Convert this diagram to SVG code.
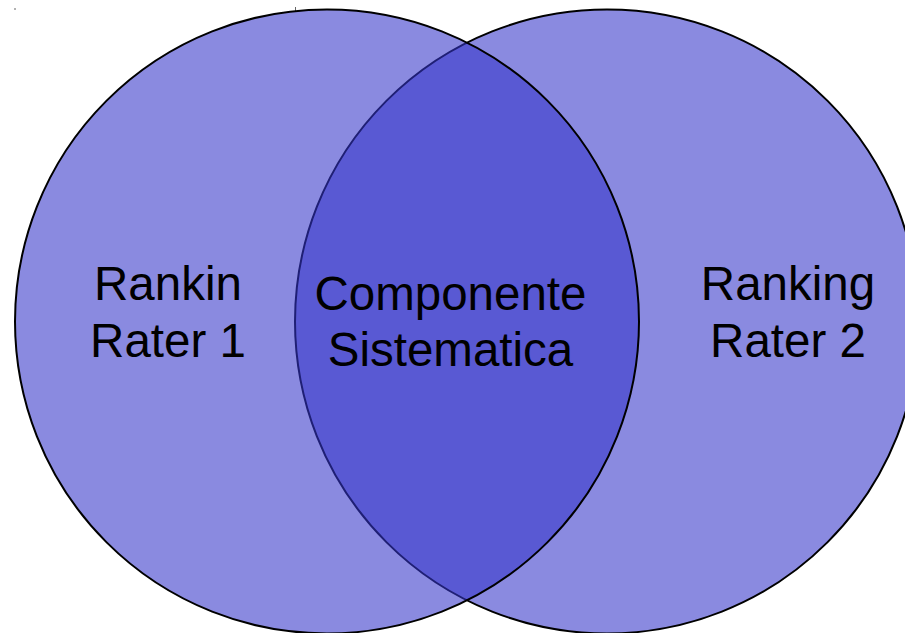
<svg xmlns="http://www.w3.org/2000/svg" width="905" height="633" viewBox="0 0 905 633">
  <style>
    .set { fill: #3636c9; fill-opacity: 0.58; stroke: #000; stroke-width: 2; }
    .label { font-family: "Liberation Sans", Arial, sans-serif; font-size: 47.5px; fill: #000; text-anchor: middle; }
  </style>
  <rect width="905" height="633" fill="#fff"/>
  <!-- small corner marks -->
  <g id="marks" stroke="#666" stroke-width="1">
    <line x1="15" y1="8" x2="15" y2="10"/>
    <line x1="295.5" y1="7" x2="295.5" y2="11"/>
  </g>
  <!-- right set is painted first so the left set's translucent fill covers its outline -->
  <g id="rater2">
    <circle class="set" cx="607" cy="321.5" r="312"/>
  </g>
  <g id="rater1">
    <circle class="set" cx="327" cy="321.5" r="312"/>
  </g>
  <g id="labels">
    <text class="label" x="168" y="300">Rankin</text>
    <text class="label" x="168" y="357">Rater 1</text>
    <text class="label" x="450.5" y="310">Componente</text>
    <text class="label" x="450.5" y="366">Sistematica</text>
    <text class="label" x="788" y="300">Ranking</text>
    <text class="label" x="788" y="357">Rater 2</text>
  </g>
</svg>
